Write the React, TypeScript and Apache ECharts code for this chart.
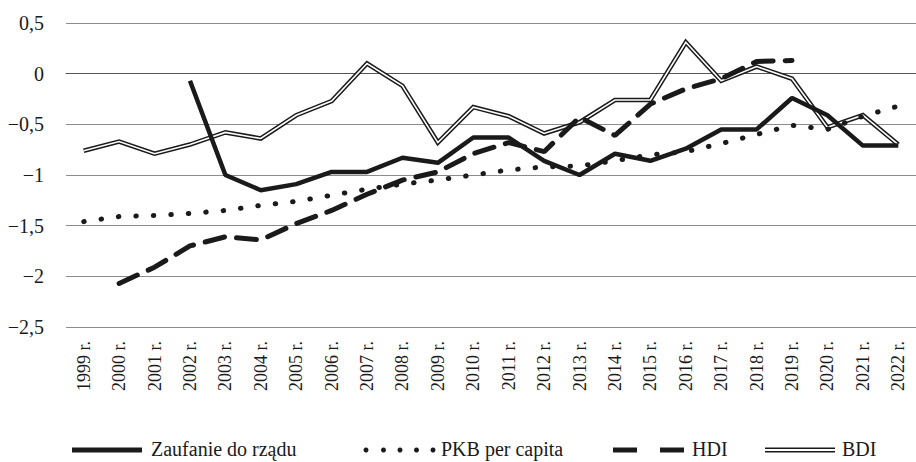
import React, { useEffect, useRef } from "react";
import * as echarts from "echarts";

const years = [
  "1999 r.", "2000 r.", "2001 r.", "2002 r.", "2003 r.", "2004 r.", "2005 r.", "2006 r.",
  "2007 r.", "2008 r.", "2009 r.", "2010 r.", "2011 r.", "2012 r.", "2013 r.", "2014 r.",
  "2015 r.", "2016 r.", "2017 r.", "2018 r.", "2019 r.", "2020 r.", "2021 r.", "2022 r.",
];

const zaufanie = [
  null, null, null, -0.07, -1.0, -1.15, -1.09, -0.97, -0.97, -0.83, -0.88, -0.63,
  -0.63, -0.86, -1.0, -0.79, -0.86, -0.74, -0.55, -0.55, -0.24, -0.41, -0.71, -0.71,
];

const pkb = [
  -1.46, -1.41, -1.4, -1.38, -1.35, -1.3, -1.26, -1.2, -1.14, -1.09, -1.05, -1.0,
  -0.95, -0.92, -0.91, -0.86, -0.8, -0.77, -0.69, -0.6, -0.51, -0.55, -0.42, -0.32,
];

const hdi = [
  null, -2.07, -1.91, -1.7, -1.61, -1.64, -1.48, -1.35, -1.19, -1.05, -0.97, -0.79,
  -0.68, -0.77, -0.43, -0.61, -0.3, -0.15, -0.05, 0.12, 0.13, null, null, null,
];

const bdi = [
  -0.76, -0.67, -0.79, -0.7, -0.58, -0.64, -0.41, -0.27, 0.1, -0.12, -0.68, -0.33,
  -0.42, -0.59, -0.48, -0.26, -0.26, 0.31, -0.07, 0.07, -0.05, -0.53, -0.41, -0.7,
];

const legendNames = ["Zaufanie do rządu", "PKB per capita", "HDI", "BDI"];

const FONT = "'Liberation Serif', 'Times New Roman', serif";
const INK = "#1a1a1a";

export default function App() {
  const ref = useRef<HTMLDivElement>(null);

  useEffect(() => {
    document.body.style.margin = "0";
    if (!ref.current) return;
    const chart = echarts.init(ref.current, undefined, { renderer: "svg" });

    const LY = 450;
    const textStyle = (t: string) => ({
      text: t,
      fill: INK,
      font: `20px ${FONT}`,
      verticalAlign: "middle",
      align: "left",
    });

    const dots = [366, 383.5, 400, 416.5, 433].map((cx) => ({
      type: "circle",
      shape: { cx, cy: LY, r: 2.5 },
      style: { fill: INK },
    }));

    const graphic: any[] = [
      { type: "line", shape: { x1: 72, y1: LY, x2: 142, y2: LY }, style: { stroke: INK, lineWidth: 5 } },
      { type: "text", x: 151, y: LY - 1, style: textStyle(legendNames[0]) },
      ...dots,
      { type: "text", x: 441, y: LY - 1, style: textStyle(legendNames[1]) },
      { type: "line", shape: { x1: 613, y1: LY, x2: 637, y2: LY }, style: { stroke: INK, lineWidth: 5 } },
      { type: "line", shape: { x1: 660, y1: LY, x2: 684, y2: LY }, style: { stroke: INK, lineWidth: 5 } },
      { type: "text", x: 692, y: LY - 1, style: textStyle(legendNames[2]) },
      { type: "line", shape: { x1: 765, y1: LY, x2: 835, y2: LY }, style: { stroke: INK, lineWidth: 5 } },
      { type: "line", shape: { x1: 765, y1: LY, x2: 835, y2: LY }, style: { stroke: "#fff", lineWidth: 1.8 } },
      { type: "text", x: 842, y: LY - 1, style: textStyle(legendNames[3]) },
    ];

    chart.setOption({
      animation: false,
      backgroundColor: "#fff",
      grid: { left: 66, right: -2, top: 23, bottom: 135, containLabel: false },
      xAxis: {
        type: "category",
        data: years,
        boundaryGap: true,
        axisTick: { show: false },
        axisLine: { show: true, lineStyle: { color: "#555", width: 1 } },
        axisLabel: {
          rotate: 90,
          interval: 0,
          margin: 14,
          fontFamily: FONT,
          fontSize: 18,
          color: INK,
        },
        splitLine: { show: false },
      },
      yAxis: {
        type: "value",
        min: -2.5,
        max: 0.5,
        interval: 0.5,
        axisLine: { show: false },
        axisTick: { show: false },
        axisLabel: {
          margin: 22,
          fontFamily: FONT,
          fontSize: 20,
          color: INK,
          formatter: (v: number) => {
            const r = Math.round(v * 10) / 10;
            if (r === 0) return "0";
            return String(r).replace(".", ",").replace("-", "\u2212");
          },
        },
        splitLine: { show: true, lineStyle: { color: "#8c8c8c", width: 1.2 } },
      },
      series: [
        {
          name: "BDI",
          type: "line",
          data: bdi,
          symbol: "none",
          lineStyle: { color: INK, width: 4.6, join: "miter" },
          z: 2,
        },
        {
          name: "BDI inner",
          type: "line",
          data: bdi,
          symbol: "none",
          lineStyle: { color: "#fff", width: 1.6, join: "miter" },
          z: 3,
        },
        {
          name: "PKB per capita",
          type: "line",
          data: pkb,
          symbol: "none",
          lineStyle: { color: INK, width: 5, type: [0.5, 17], cap: "round" },
          z: 4,
        },
        {
          name: "HDI",
          type: "line",
          data: hdi,
          symbol: "none",
          lineStyle: { color: INK, width: 5, type: [20, 12], cap: "round" },
          z: 5,
        },
        {
          name: "Zaufanie do rządu",
          type: "line",
          data: zaufanie,
          symbol: "none",
          lineStyle: { color: INK, width: 4.5 },
          z: 6,
        },
      ],
      graphic,
    });

    return () => chart.dispose();
  }, []);

  return <div ref={ref} style={{ width: 916, height: 462 }} />;
}
